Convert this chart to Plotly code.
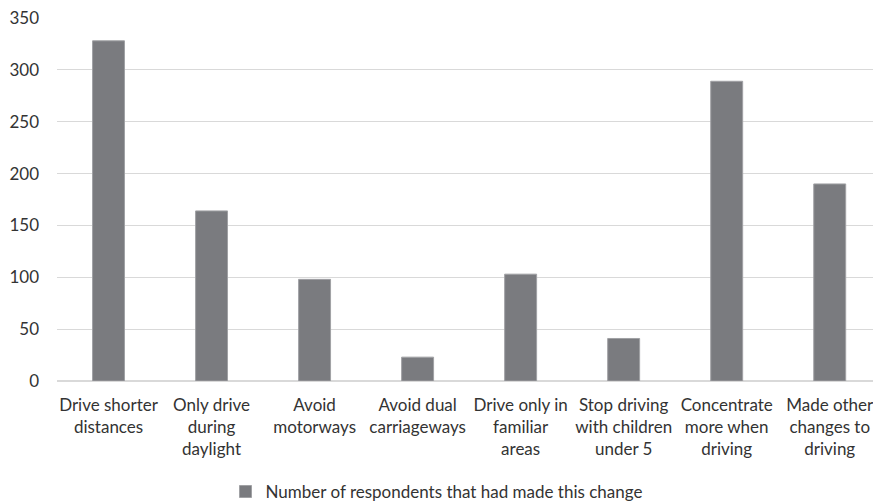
import plotly.graph_objects as go

categories = [
    "Drive shorter<br>distances",
    "Only drive<br>during<br>daylight",
    "Avoid<br>motorways",
    "Avoid dual<br>carriageways",
    "Drive only in<br>familiar<br>areas",
    "Stop driving<br>with children<br>under 5",
    "Concentrate<br>more when<br>driving",
    "Made other<br>changes to<br>driving",
]
respondents = [328, 164, 98, 23, 103, 41, 289, 190]
series_name = "Number of respondents that had made this change"
y_ticks = [0, 50, 100, 150, 200, 250, 300, 350]

FONT = "Lato, Carlito, Calibri, sans-serif"
TEXT = "#333333"
SIZE = 17

fig = go.Figure(
    go.Bar(
        x=list(range(len(categories))),
        y=respondents,
        name=series_name,
        marker=dict(color="#7a7b7f", line=dict(color="#a0a1a4", width=1)),
        showlegend=True,
    )
)

fig.update_layout(
    width=873,
    height=502,
    margin=dict(l=57, r=0, t=18, b=121),
    paper_bgcolor="white",
    plot_bgcolor="white",
    bargap=0.69,
    font=dict(family=FONT, size=SIZE, color=TEXT),
    legend=dict(
        orientation="h",
        xref="container",
        yref="container",
        x=0.5,
        xanchor="center",
        y=0.02,
        yanchor="middle",
        font=dict(family=FONT, size=SIZE, color=TEXT),
        itemwidth=30,
    ),
    xaxis=dict(
        range=[-0.5, 7.42],
        tickmode="array",
        tickvals=list(range(len(categories))),
        ticktext=categories,
        tickangle=0,
        ticklabeloverflow="allow",
        ticklabelstandoff=12,
        showgrid=False,
        showline=False,
        zeroline=False,
        tickfont=dict(family=FONT, size=SIZE, color=TEXT),
    ),
    yaxis=dict(
        range=[0, 350],
        tickmode="array",
        tickvals=y_ticks,
        showgrid=True,
        gridcolor="#d9d9d9",
        gridwidth=1,
        zeroline=True,
        zerolinecolor="#d9d9d9",
        zerolinewidth=2,
        ticklabelstandoff=17,
        tickfont=dict(family=FONT, size=SIZE, color=TEXT),
    ),
)

fig.write_html("out.html")
